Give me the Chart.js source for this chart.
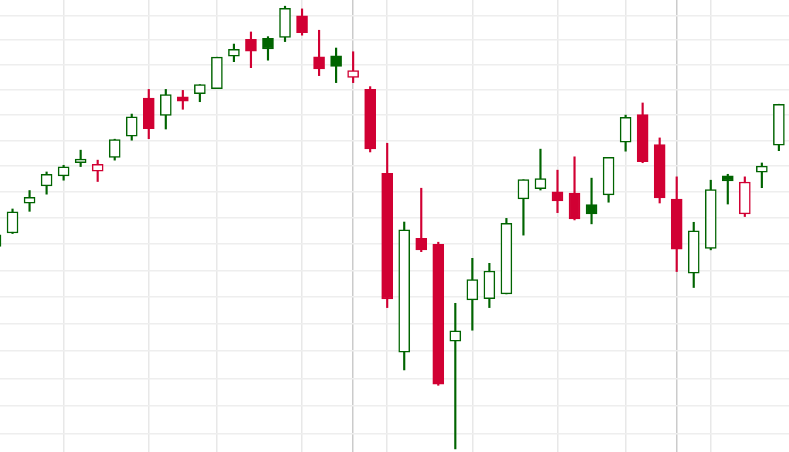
<!DOCTYPE html>
<html>
<head>
<meta charset="utf-8">
<title>candles</title>
<script src="https://cdn.jsdelivr.net/npm/chart.js@4.4.1/dist/chart.umd.min.js"></script>
<style>
  html, body { margin: 0; padding: 0; background: #fff; }
  #wrap { width: 789px; height: 452px; position: relative; }
</style>
</head>
<body>
<div id="wrap"><canvas id="myChart"></canvas></div>
<script>
//DATA
var candles = [1, 2, 3, 4, 5, 6, 7, 8, 9, 10, 11, 12, 13, 14, 15, 16, 17, 18, 19, 20, 21, 22, 23, 24,
  25, 26, 27, 28, 29, 30, 31, 32, 33, 34, 35, 36, 37, 38, 39, 40, 41, 42, 43, 44, 45, 46, 47];

var open = [1219.1, 1224.2, 1235.6, 1242.3, 1246.2, 1251.3, 1248.0, 1253.4, 1261.7, 1276.7, 1269.9, 1277.2,
  1278.5, 1280.5, 1293.5, 1300.3, 1300.7, 1301.1, 1309.9, 1293.2, 1293.7, 1285.0, 1280.2, 1247.2,
  1179.6, 1222.2, 1219.9, 1183.7, 1199.0, 1199.4, 1201.2, 1237.3, 1241.2, 1240.0, 1239.5, 1235.1,
  1238.8, 1259.3, 1270.2, 1258.4, 1237.2, 1209.0, 1218.3, 1246.2, 1231.5, 1247.6, 1258.2];
var high = [1224.6, 1233.4, 1240.5, 1247.7, 1250.3, 1256.2, 1252.3, 1260.5, 1270.4, 1280.2, 1280.2, 1279.8,
  1282.1, 1293.1, 1298.4, 1303.3, 1301.4, 1313.8, 1312.7, 1304.0, 1296.8, 1295.3, 1281.3, 1258.9,
  1228.4, 1241.4, 1220.7, 1197.7, 1214.6, 1212.7, 1229.8, 1244.7, 1256.6, 1248.4, 1253.6, 1245.3,
  1253.4, 1270.0, 1274.8, 1261.0, 1245.8, 1228.3, 1244.5, 1246.8, 1245.8, 1251.2, 1274.3];
var low = [1218.1, 1224.0, 1232.5, 1239.1, 1244.5, 1249.8, 1244.0, 1252.3, 1260.1, 1260.7, 1264.5, 1272.3,
  1275.3, 1280.5, 1291.3, 1288.9, 1291.9, 1299.4, 1302.0, 1285.7, 1282.9, 1282.9, 1255.5, 1196.1,
  1173.1, 1217.1, 1167.5, 1144.6, 1187.7, 1196.1, 1201.2, 1223.4, 1240.7, 1232.0, 1229.2, 1227.7,
  1236.0, 1255.8, 1251.3, 1235.7, 1209.6, 1203.6, 1217.8, 1235.3, 1230.5, 1241.6, 1256.0];
var close = [1223.5, 1232.3, 1237.9, 1246.8, 1249.7, 1252.7, 1250.7, 1260.3, 1269.3, 1264.6, 1278.1, 1275.5,
  1282.1, 1293.1, 1296.3, 1295.5, 1296.4, 1312.9, 1303.0, 1288.4, 1289.4, 1287.7, 1256.7, 1199.3,
  1225.4, 1217.8, 1167.9, 1187.5, 1206.6, 1209.8, 1227.9, 1244.7, 1245.1, 1236.5, 1229.6, 1231.5,
  1253.4, 1269.1, 1251.7, 1237.7, 1218.1, 1225.0, 1240.9, 1244.2, 1243.8, 1250.0, 1274.3];

// horizontal price lines and the candles that carry a vertical line
var priceLines = [1150, 1160, 1170, 1180, 1190, 1200, 1210, 1220, 1230, 1240, 1250, 1260, 1270, 1280, 1290, 1300, 1310];
var timeLines = [5, 10, 14, 19, 22, 24, 29, 34, 38, 41, 43];
var timeLinesDark = [22, 41];

var UP = '#006400';
var DOWN = '#d10033';

// hollow candles: colour vs previous close, filled when close < open
var colors = [];
var fills = [];
var bodies = [];
var wicks = [];
for (var i = 0; i < candles.length; i++) {
  var prev = i > 0 ? close[i - 1] : open[i];
  var c = close[i] >= prev ? UP : DOWN;
  colors.push(c);
  fills.push(close[i] > open[i] ? '#ffffff' : c);
  bodies.push({ x: candles[i], y: [open[i], close[i]] });
  wicks.push({ x: candles[i], y: [low[i], high[i]] });
}

//CHART
var ctx = document.getElementById('myChart');
var myChart = new Chart(ctx, {
  type: 'bar',
  data: {
    datasets: [{
      label: 'body',
      data: bodies,
      backgroundColor: fills,
      borderColor: colors,
      borderWidth: 1.5,
      borderSkipped: false,
      barThickness: 11,
      grouped: false
    }, {
      label: 'wick',
      data: wicks,
      backgroundColor: colors,
      borderWidth: 0,
      barThickness: 1.5,
      grouped: false
    }]
  },
  options: {
    responsive: true,
    maintainAspectRatio: false,
    animation: false,
    layout: { padding: 0 },
    plugins: {
      legend: { display: false },
      tooltip: { enabled: false }
    },
    scales: {
      x: {
        type: 'linear',
        min: 1.264,
        max: 47.594,
        offset: false,
        bounds: 'data',
        afterBuildTicks: function (scale) {
          scale.ticks = timeLines.map(function (v) { return { value: v }; });
        },
        ticks: { display: false },
        border: { display: false },
        grid: {
          offset: false,
          drawTicks: false,
          lineWidth: 1.5,
          color: function (c) {
            return c.tick && timeLinesDark.indexOf(c.tick.value) >= 0 ? '#cbcbcb' : '#e8e8e8';
          }
        }
      },
      y: {
        type: 'logarithmic',
        min: 1143.5,
        max: 1316.34,
        bounds: 'data',
        afterBuildTicks: function (scale) {
          scale.ticks = priceLines.map(function (v) { return { value: v }; });
        },
        ticks: { display: false },
        border: { display: false },
        grid: {
          drawTicks: false,
          lineWidth: 1.5,
          color: '#eeeeee'
        }
      }
    }
  }
});
</script>
</body>
</html>
